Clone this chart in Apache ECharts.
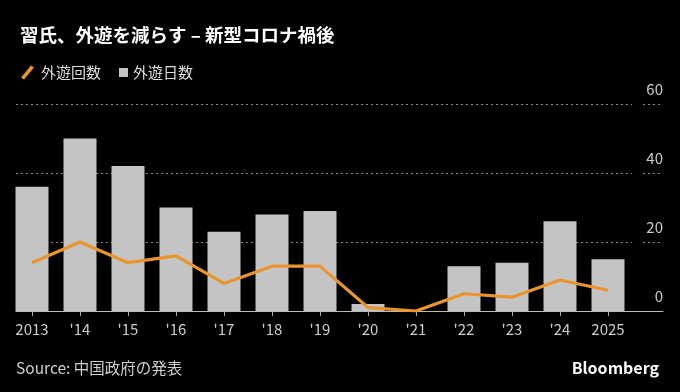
<!DOCTYPE html>
<html>
<head>
<meta charset="utf-8">
<script src="https://cdn.jsdelivr.net/npm/echarts@6/dist/echarts.min.js"></script>
<style>
html,body{margin:0;padding:0;background:#000;}
#c{width:680px;height:392px;}
</style>
</head>
<body>
<div id="c"></div>
<script>
const categories = ['2013', "'14", "'15", "'16", "'17", "'18", "'19", "'20", "'21", "'22", "'23", "'24", '2025'];
const tripDays = [36, 50, 42, 30, 23, 28, 29, 2, 0, 13, 14, 26, 15];
const tripCounts = [14, 20, 14, 16, 8, 13, 13, 1, 0, 5, 4, 9, 6];
const yTicks = [0, 20, 40, 60];

const FONT = '"Noto Sans CJK JP", "Noto Sans", sans-serif';
const chart = echarts.init(document.getElementById('c'), null, {renderer: 'canvas'});

const yMin = yTicks[0], yMax = yTicks[yTicks.length - 1], yStep = yTicks[1] - yTicks[0];
const plotTop = 104, plotH = 207;

chart.setOption({
  backgroundColor: '#000',
  animation: false,
  textStyle: {fontFamily: FONT},
  title: {
    text: '習氏、外遊を減らす – 新型コロナ禍後',
    left: 15, top: 21,
    textStyle: {color: '#fff', fontSize: 18.5, fontWeight: 'bold', fontFamily: FONT}
  },
  legend: [
    {
      left: 16, top: 60,
      itemWidth: 13, itemHeight: 14, itemGap: 18,
      data: [{name: '外遊回数', icon: 'path://M0,12 L10,0 L13,2 L3,14 Z'}],
      textStyle: {color: '#ddd', fontSize: 15, fontFamily: FONT, padding: [0, 0, 0, 2]}
    },
    {
      left: 114, top: 60,
      itemWidth: 9, itemHeight: 9,
      data: [{name: '外遊日数', icon: 'rect'}],
      textStyle: {color: '#ddd', fontSize: 15, fontFamily: FONT}
    }
  ],
  graphic: [
    {type: 'text', left: 16, top: 360,
     style: {text: 'Source: 中国政府の発表', fill: '#cfcfcf', font: '15.5px ' + FONT}},
    {type: 'text', right: 21, top: 360,
     style: {text: 'Bloomberg', fill: '#fff', font: 'bold 16px ' + FONT}}
  ],
  grid: [
    {left: 8, width: 624, top: plotTop, height: plotH},
    {left: 16, width: 616, top: plotTop, height: plotH},
    {left: 643, width: 20, top: plotTop, height: plotH},
    {left: 16, width: 647, top: plotTop, height: plotH}
  ],
  xAxis: [
    {gridIndex: 0, type: 'category', data: categories, boundaryGap: true,
     axisLine: {show: false},
     axisTick: {show: true, alignWithLabel: true, length: 5, lineStyle: {color: '#aaa'}},
     axisLabel: {color: '#ccc', fontSize: 15, margin: 11, fontFamily: FONT}},
    {gridIndex: 1, type: 'value', min: 0, max: 1, show: false},
    {gridIndex: 2, type: 'value', min: 0, max: 1, show: false},
    {gridIndex: 3, type: 'value', min: 0, max: 1,
     axisLine: {show: true, lineStyle: {color: '#bbb', width: 1}},
     axisTick: {show: false}, axisLabel: {show: false}, splitLine: {show: false}}
  ],
  yAxis: [
    {gridIndex: 0, type: 'value', min: yMin, max: yMax, interval: yStep,
     axisLabel: {show: false}, splitLine: {show: false}, axisLine: {show: false}, axisTick: {show: false}},
    {gridIndex: 1, type: 'value', min: yMin, max: yMax, interval: yStep,
     axisLabel: {show: false}, axisLine: {show: false}, axisTick: {show: false},
     splitLine: {show: true, lineStyle: {type: [2, 3], color: '#8a8a8a', width: 1}}},
    {gridIndex: 2, type: 'value', min: yMin, max: yMax, interval: yStep, position: 'right',
     axisLine: {show: false}, axisTick: {show: false},
     splitLine: {show: true, lineStyle: {type: [2, 3], color: '#8a8a8a', width: 1}},
     axisLabel: {show: true, inside: true, margin: 0, align: 'right', verticalAlign: 'bottom',
                 padding: [0, 0, 7, 0], color: '#ccc', fontSize: 15, fontFamily: FONT}},
    {gridIndex: 3, type: 'value', min: yMin, max: yMax, show: false}
  ],
  series: [
    {name: '外遊日数', type: 'bar', xAxisIndex: 0, yAxisIndex: 0, data: tripDays,
     barWidth: 33, itemStyle: {color: '#c4c4c4'}, z: 2},
    {name: '外遊回数', type: 'line', xAxisIndex: 0, yAxisIndex: 0, data: tripCounts,
     symbol: 'none', lineStyle: {color: '#e8952e', width: 3.2}, itemStyle: {color: '#e8952e'}, z: 5}
  ]
});
</script>
</body>
</html>
